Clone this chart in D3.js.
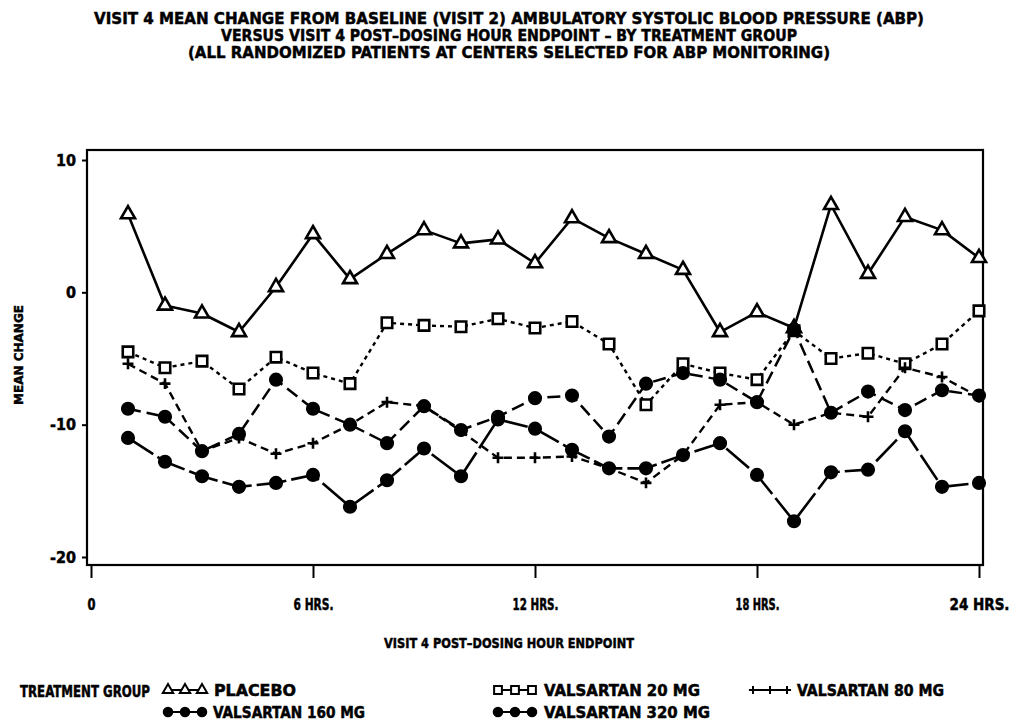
<!DOCTYPE html>
<html>
<head>
<meta charset="utf-8">
<script src="https://cdn.jsdelivr.net/npm/d3@7"></script>
<style>
  html, body { margin: 0; padding: 0; background: #fff; }
  svg { display: block; }
  text { font-family: "Liberation Sans Narrow", "DejaVu Sans Condensed", "Arial Narrow", sans-serif; font-weight: bold; fill: #000; stroke: #000; stroke-width: 0.45px; }
</style>
</head>
<body>
<svg id="chart" width="1017" height="722"></svg>
<script>
// Post-dosing hour endpoints (x categories)
const hours = [1, 2, 3, 4, 5, 6, 7, 8, 9, 10, 11, 12, 13, 14, 15, 16, 17, 18, 19, 20, 21, 22, 23, 24];

// Mean change from baseline in ambulatory systolic BP, by treatment group
const placebo = [5.9, -1.0, -1.6, -3.0, 0.4, 4.4, 1.0, 2.9, 4.7, 3.7, 4.0, 2.2, 5.6, 4.1, 2.9, 1.7, -3.0, -1.5, -2.7, 6.6, 1.4, 5.7, 4.7, 2.6];
const valsartan20 = [-4.5, -5.7, -5.2, -7.3, -4.9, -6.1, -6.9, -2.3, -2.5, -2.6, -2.0, -2.7, -2.2, -3.9, -8.5, -5.4, -6.1, -6.6, -2.9, -5.0, -4.6, -5.4, -3.9, -1.4];
const valsartan80 = [-5.4, -6.9, -12.0, -11.0, -12.2, -11.4, -10.0, -8.3, -8.6, -10.5, -12.5, -12.5, -12.4, -13.3, -14.4, -12.3, -8.5, -8.3, -10.0, -9.1, -9.4, -5.7, -6.4, -7.9];
const valsartan160 = [-8.8, -9.4, -12.0, -10.7, -6.6, -8.8, -10.0, -11.4, -8.6, -10.4, -9.4, -8.0, -7.8, -10.9, -6.9, -6.1, -6.6, -8.3, -2.8, -9.1, -7.5, -8.9, -7.4, -7.8];
const valsartan320 = [-11.0, -12.8, -13.9, -14.7, -14.4, -13.8, -16.2, -14.2, -11.8, -13.9, -9.6, -10.3, -11.9, -13.3, -13.3, -12.3, -11.4, -13.8, -17.3, -13.6, -13.4, -10.5, -14.7, -14.4];

// Axis ticks and labels
const xTicks = [0, 6, 12, 18, 24];
const xTickLabels = ["0", "6 HRS.", "12 HRS.", "18 HRS.", "24 HRS."];
const yTicks = [10, 0, -10, -20];
const yTickLabels = ["10", "0", "-10", "-20"];

const titleLines = [
  "VISIT 4 MEAN CHANGE FROM BASELINE (VISIT 2) AMBULATORY SYSTOLIC BLOOD PRESSURE (ABP)",
  "VERSUS VISIT 4 POST\u2013DOSING HOUR ENDPOINT \u2013 BY TREATMENT GROUP",
  "(ALL RANDOMIZED PATIENTS AT CENTERS SELECTED FOR ABP MONITORING)"
];
const xAxisTitle = "VISIT 4 POST\u2013DOSING HOUR ENDPOINT";
const yAxisTitle = "MEAN CHANGE";
const legendTitle = "TREATMENT GROUP";
const groupNames = ["PLACEBO", "VALSARTAN 20 MG", "VALSARTAN 80 MG", "VALSARTAN 160 MG", "VALSARTAN 320 MG"];

// Thin plus sign drawn as strokes
const plusSymbol = {
  draw(ctx, size) {
    const r = Math.sqrt(size) / 2;
    ctx.moveTo(-r, 0); ctx.lineTo(r, 0);
    ctx.moveTo(0, -r); ctx.lineTo(0, r);
  }
};

const series = [
  { name: groupNames[0], values: placebo,      symbol: d3.symbolTriangle, size: 85,  dash: null,   fill: "#fff", lw: 2.6 },
  { name: groupNames[1], values: valsartan20,  symbol: d3.symbolSquare,   size: 110, dash: "4,4",  fill: "#fff", lw: 2.4 },
  { name: groupNames[2], values: valsartan80,  symbol: plusSymbol,        size: 120, dash: "8,5",  fill: "none", lw: 2.4 },
  { name: groupNames[3], values: valsartan160, symbol: d3.symbolCircle,   size: 105, dash: "13,6", fill: "#000", lw: 2.5 },
  { name: groupNames[4], values: valsartan320, symbol: d3.symbolCircle,   size: 105, dash: "30,5", fill: "#000", lw: 2.6 }
];

const svg = d3.select("#chart");

// Plot frame
const frame = { left: 87, right: 983, top: 150, bottom: 565 };

const x = d3.scaleLinear().domain([0, 24]).range([91, 979]);
const y = d3.scaleLinear().domain([-20, 10]).range([557, 160]);

// Title
svg.append("g").selectAll("text")
  .data(titleLines)
  .join("text")
  .attr("x", 509)
  .attr("y", (d, i) => 24 + i * 17)
  .attr("text-anchor", "middle")
  .attr("font-size", 16)
  .attr("textLength", (d, i) => [830, 576, 642][i])
  .attr("lengthAdjust", "spacingAndGlyphs")
  .text(d => d);

svg.append("rect")
  .attr("x", frame.left).attr("y", frame.top)
  .attr("width", frame.right - frame.left)
  .attr("height", frame.bottom - frame.top)
  .attr("fill", "none").attr("stroke", "#000").attr("stroke-width", 2.2);

// X axis
const xAxis = svg.append("g")
  .attr("transform", `translate(0,${frame.bottom})`)
  .call(d3.axisBottom(x).tickValues(xTicks).tickSize(13).tickPadding(21)
    .tickFormat((d, i) => xTickLabels[i]));
xAxis.select(".domain").remove();
xAxis.selectAll(".tick line").attr("stroke", "#000").attr("stroke-width", 2);
xAxis.selectAll(".tick text")
  .attr("font-size", 15)
  .attr("font-family", null)
  .attr("fill", "#000")
  .attr("textLength", (d, i) => [8, 40, 46, 44, 60][i])
  .attr("lengthAdjust", "spacingAndGlyphs");

// Y axis
const yAxis = svg.append("g")
  .attr("transform", `translate(${frame.left},0)`)
  .call(d3.axisLeft(y).tickValues(yTicks).tickSize(5).tickPadding(6)
    .tickFormat((d, i) => yTickLabels[i]));
yAxis.select(".domain").remove();
yAxis.selectAll(".tick line").attr("stroke", "#000").attr("stroke-width", 2);
yAxis.selectAll(".tick text")
  .attr("font-size", 16)
  .attr("font-family", null)
  .attr("fill", "#000");

// Axis titles
svg.append("text")
  .attr("x", 509).attr("y", 648)
  .attr("text-anchor", "middle")
  .attr("font-size", 14)
  .attr("textLength", 250).attr("lengthAdjust", "spacingAndGlyphs")
  .text(xAxisTitle);

svg.append("text")
  .attr("transform", "translate(23,355) rotate(-90)")
  .attr("text-anchor", "middle")
  .attr("font-size", 13)
  .attr("textLength", 100).attr("lengthAdjust", "spacingAndGlyphs")
  .text(yAxisTitle);

// Series lines and markers
const line = d3.line()
  .x((d, i) => x(hours[i]))
  .y(d => y(d));

const plot = svg.append("g");

series.forEach(s => {
  plot.append("path")
    .datum(s.values)
    .attr("d", line)
    .attr("fill", "none")
    .attr("stroke", "#000")
    .attr("stroke-width", s.lw)
    .attr("stroke-dasharray", s.dash)
    .attr("stroke-linejoin", "round");
});

series.forEach(s => {
  plot.append("g").selectAll("path")
    .data(s.values)
    .join("path")
    .attr("transform", (d, i) => `translate(${x(hours[i])},${y(d)})`)
    .attr("d", d3.symbol().type(s.symbol).size(s.size))
    .attr("fill", s.fill)
    .attr("stroke", "#000")
    .attr("stroke-width", 2.6);
});

// Legend
const legend = svg.append("g");
legend.append("text")
  .attr("x", 20).attr("y", 697)
  .attr("font-size", 15)
  .attr("textLength", 130).attr("lengthAdjust", "spacingAndGlyphs")
  .text(legendTitle);

const legendPos = [
  { sx: 163, ty: 690, tx: 214, w: 82 },
  { sx: 493, ty: 690, tx: 544, w: 156 },
  { sx: 748, ty: 690, tx: 797, w: 147 },
  { sx: 163, ty: 712, tx: 213, w: 152 },
  { sx: 493, ty: 712, tx: 544, w: 166 }
];

series.forEach((s, k) => {
  const p = legendPos[k];
  const xs = [p.sx + 5, p.sx + 22, p.sx + 39];
  legend.append("line")
    .attr("x1", xs[0]).attr("x2", xs[2])
    .attr("y1", p.ty).attr("y2", p.ty)
    .attr("stroke", "#000").attr("stroke-width", 2);
  legend.append("g").selectAll("path")
    .data(xs)
    .join("path")
    .attr("transform", d => `translate(${d},${p.ty})`)
    .attr("d", d3.symbol().type(s.symbol).size(s.size * 0.55))
    .attr("fill", s.fill)
    .attr("stroke", "#000")
    .attr("stroke-width", 2);
  legend.append("text")
    .attr("x", p.tx).attr("y", p.ty + 6)
    .attr("font-size", 15)
    .attr("textLength", p.w).attr("lengthAdjust", "spacingAndGlyphs")
    .text(s.name);
});
</script>
</body>
</html>
